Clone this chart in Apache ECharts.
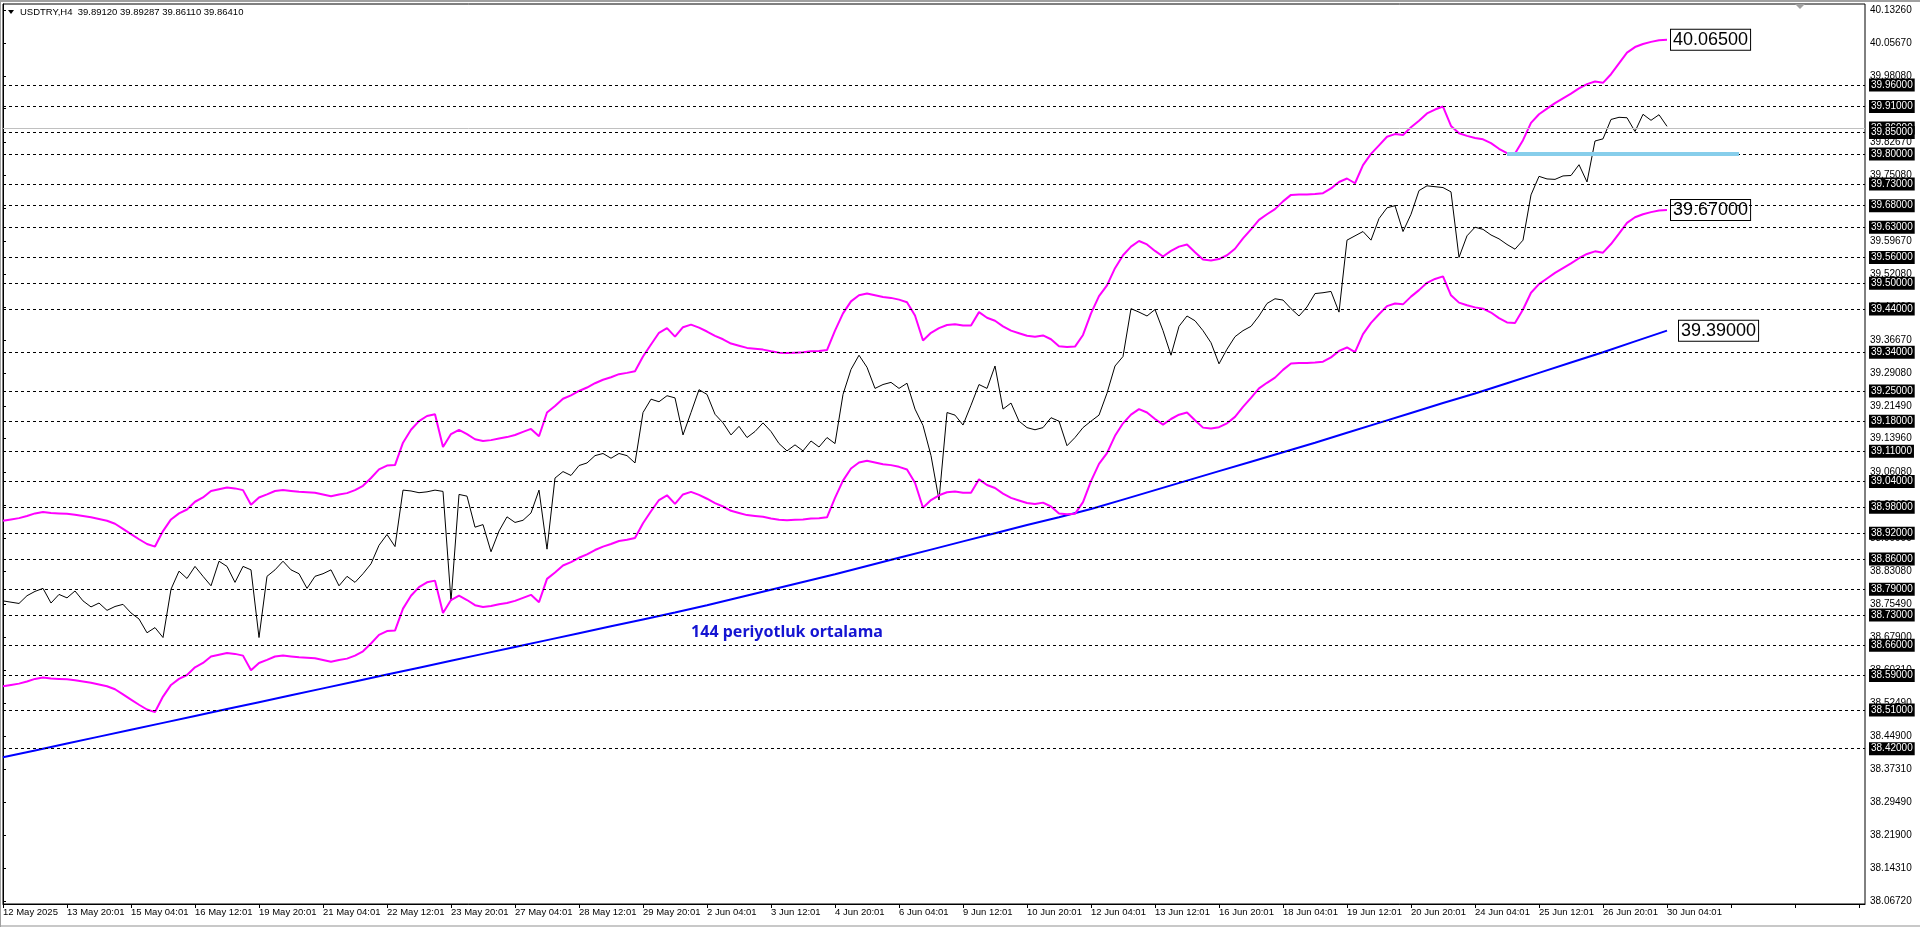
<!DOCTYPE html>
<html><head><meta charset="utf-8">
<script src="https://cdn.jsdelivr.net/npm/echarts@6/dist/echarts.min.js"></script>
<style>html,body{margin:0;padding:0;background:#fff;overflow:hidden}#c{width:1920px;height:927px}</style>
</head><body><div id="c"></div>
<script>
const headerText = "USDTRY,H4  39.89120 39.89287 39.86110 39.86410";
const xTickLabels = ["12 May 2025","13 May 20:01","15 May 04:01","16 May 12:01","19 May 20:01","21 May 04:01","22 May 12:01","23 May 20:01","27 May 04:01","28 May 12:01","29 May 20:01","2 Jun 04:01","3 Jun 12:01","4 Jun 20:01","6 Jun 04:01","9 Jun 12:01","10 Jun 20:01","12 Jun 04:01","13 Jun 12:01","16 Jun 20:01","18 Jun 04:01","19 Jun 12:01","20 Jun 20:01","24 Jun 04:01","25 Jun 12:01","26 Jun 20:01","30 Jun 04:01"];
const BARS_PER_LABEL = 8;
const axisTickValues = [40.1326,40.0567,39.9808,39.9049,39.8267,39.7508,39.6749,39.5967,39.5208,39.4449,39.3667,39.2908,39.2149,39.1396,39.0608,38.9849,38.9090,38.8308,38.7549,38.6790,38.6031,38.5249,38.4490,38.3731,38.2949,38.2190,38.1431,38.0672];
const levelPrices = [39.96,39.91,39.85,39.80,39.73,39.68,39.63,39.56,39.50,39.44,39.34,39.25,39.18,39.11,39.04,38.98,38.92,38.86,38.79,38.73,38.66,38.59,38.51,38.42];
const bidPrice = 39.8641;
const cyanSegment = {fromBar:188, toBar:217, price:39.80};
const maLabel = {text:"144 periyotluk ortalama", bar:98, price:38.69};

const closeValues = [
38.763,38.760,38.757,38.775,38.785,38.792,38.758,38.778,38.770,38.786,
38.763,38.749,38.758,38.741,38.750,38.755,38.735,38.721,38.689,38.701,
38.678,38.790,38.832,38.815,38.843,38.820,38.798,38.855,38.843,38.806,
38.843,38.835,38.678,38.820,38.835,38.855,38.835,38.826,38.792,38.820,
38.826,38.835,38.798,38.820,38.806,38.826,38.849,38.892,38.917,38.889,
39.020,39.018,39.014,39.016,39.020,39.017,38.763,39.010,39.006,38.934,
38.940,38.877,38.925,38.958,38.945,38.950,38.967,39.020,38.883,39.048,
39.063,39.054,39.077,39.083,39.100,39.105,39.094,39.105,39.100,39.083,
39.200,39.231,39.225,39.239,39.234,39.148,39.200,39.253,39.242,39.196,
39.176,39.148,39.168,39.142,39.156,39.176,39.156,39.128,39.111,39.125,
39.111,39.134,39.120,39.142,39.128,39.242,39.300,39.333,39.305,39.256,
39.265,39.270,39.256,39.268,39.208,39.170,39.100,38.997,39.200,39.194,
39.171,39.217,39.265,39.256,39.308,39.208,39.222,39.180,39.165,39.160,
39.165,39.188,39.180,39.123,39.142,39.165,39.180,39.194,39.245,39.308,
39.330,39.441,39.433,39.424,39.439,39.390,39.333,39.400,39.424,39.413,
39.390,39.362,39.313,39.347,39.376,39.390,39.400,39.424,39.453,39.464,
39.461,39.441,39.424,39.445,39.476,39.478,39.481,39.433,39.600,39.610,
39.620,39.600,39.650,39.675,39.680,39.620,39.660,39.715,39.726,39.724,
39.722,39.712,39.560,39.610,39.630,39.625,39.612,39.603,39.590,39.579,
39.600,39.705,39.748,39.742,39.741,39.749,39.750,39.775,39.735,39.830,
39.835,39.880,39.885,39.884,39.852,39.892,39.878,39.891,39.864];

const upperValues = [
38.949,38.952,38.955,38.960,38.966,38.969,38.967,38.966,38.965,38.963,
38.960,38.957,38.953,38.949,38.942,38.930,38.918,38.906,38.895,38.889,
38.925,38.952,38.966,38.975,38.993,39.003,39.018,39.022,39.026,39.024,
39.020,38.986,39.003,39.010,39.018,39.020,39.018,39.016,39.015,39.014,
39.010,39.006,39.010,39.013,39.020,39.030,39.048,39.068,39.077,39.078,
39.130,39.160,39.180,39.192,39.196,39.120,39.150,39.160,39.150,39.138,
39.134,39.136,39.140,39.143,39.148,39.155,39.162,39.145,39.200,39.215,
39.232,39.240,39.250,39.258,39.268,39.276,39.282,39.289,39.292,39.296,
39.330,39.358,39.385,39.396,39.376,39.398,39.404,39.397,39.388,39.378,
39.370,39.360,39.355,39.350,39.348,39.346,39.342,39.339,39.338,39.339,
39.340,39.342,39.343,39.345,39.390,39.430,39.458,39.472,39.476,39.472,
39.468,39.466,39.462,39.456,39.425,39.367,39.385,39.396,39.403,39.405,
39.402,39.402,39.433,39.420,39.413,39.400,39.390,39.384,39.378,39.376,
39.379,39.370,39.354,39.352,39.353,39.380,39.430,39.470,39.495,39.535,
39.565,39.585,39.598,39.590,39.575,39.562,39.575,39.585,39.590,39.572,
39.555,39.553,39.556,39.565,39.580,39.604,39.625,39.647,39.660,39.672,
39.690,39.705,39.706,39.706,39.707,39.709,39.720,39.735,39.743,39.732,
39.774,39.800,39.820,39.840,39.846,39.844,39.862,39.877,39.894,39.903,
39.910,39.865,39.848,39.842,39.837,39.834,39.825,39.812,39.802,39.801,
39.832,39.872,39.892,39.905,39.918,39.929,39.940,39.952,39.962,39.968,
39.965,39.985,40.010,40.035,40.048,40.055,40.060,40.064,40.065];

const lowerValues = [
38.565,38.568,38.571,38.576,38.582,38.585,38.583,38.582,38.581,38.579,
38.576,38.573,38.569,38.565,38.558,38.546,38.534,38.522,38.511,38.505,
38.541,38.568,38.582,38.591,38.609,38.619,38.634,38.638,38.642,38.640,
38.636,38.602,38.619,38.626,38.634,38.636,38.634,38.632,38.631,38.630,
38.626,38.622,38.626,38.629,38.636,38.646,38.664,38.684,38.693,38.694,
38.745,38.775,38.795,38.806,38.810,38.735,38.765,38.775,38.765,38.753,
38.749,38.751,38.755,38.758,38.763,38.770,38.777,38.760,38.814,38.829,
38.845,38.853,38.863,38.871,38.881,38.889,38.895,38.902,38.905,38.909,
38.943,38.971,38.997,39.008,38.988,39.010,39.016,39.009,39.000,38.990,
38.982,38.972,38.967,38.962,38.960,38.958,38.954,38.951,38.950,38.951,
38.952,38.954,38.955,38.957,39.002,39.042,39.070,39.084,39.088,39.084,
39.080,39.078,39.074,39.068,39.037,38.979,38.997,39.008,39.015,39.017,
39.014,39.014,39.045,39.032,39.025,39.012,39.002,38.996,38.990,38.988,
38.991,38.982,38.966,38.964,38.965,38.992,39.041,39.081,39.106,39.146,
39.175,39.195,39.208,39.200,39.185,39.172,39.185,39.195,39.200,39.182,
39.165,39.163,39.166,39.175,39.190,39.213,39.234,39.256,39.269,39.281,
39.299,39.314,39.315,39.315,39.316,39.318,39.328,39.343,39.351,39.340,
39.382,39.408,39.428,39.447,39.453,39.451,39.469,39.484,39.501,39.510,
39.516,39.472,39.455,39.449,39.444,39.441,39.432,39.419,39.409,39.408,
39.439,39.478,39.498,39.511,39.524,39.535,39.546,39.558,39.568,39.574,
39.571,39.591,39.615,39.640,39.653,39.660,39.665,39.669,39.670];

const MA_STEP = 4;
const maValues = [
38.400,38.416,38.432,38.448,38.464,38.480,38.496,38.512,38.528,38.544,
38.560,38.576,38.592,38.608,38.624,38.640,38.656,38.672,38.688,38.704,
38.720,38.736,38.753,38.771,38.789,38.807,38.825,38.844,38.863,38.882,
38.901,38.920,38.939,38.957,38.976,38.998,39.020,39.042,39.064,39.086,
39.108,39.130,39.153,39.176,39.199,39.222,39.244,39.268,39.292,39.316,
39.340,39.365,39.390];

const FONT = "'Liberation Sans', Arial, sans-serif";
const chart = echarts.init(document.getElementById('c'), null, {renderer:'canvas'});
const pairs = arr => arr.map((v, i) => [i, v]);
const endBox = (dist) => ({
  show: true, distance: dist,
  formatter: p => p.value[1].toFixed(5),
  backgroundColor: '#fff', borderColor: '#000', borderWidth: 1,
  padding: [2, 2, 0, 2], fontSize: 18, color: '#000', fontFamily: FONT
});
const levelLabel = {
  show: true, position: 'end', distance: 4,
  formatter: p => Number(p.value).toFixed(5),
  backgroundColor: '#000', color: '#fff', fontSize: 10, fontFamily: FONT,
  padding: [2, 2, 1, 2]
};

const option = {
  animation: false,
  backgroundColor: '#fff',
  grid: {left: 3, right: 55, top: 4, bottom: 23, show: true, borderColor: '#000', borderWidth: 1},
  xAxis: {
    type: 'value', min: 0, max: 232.75, interval: BARS_PER_LABEL,
    splitLine: {show: false},
    axisLine: {lineStyle: {color: '#000', width: 1}},
    axisTick: {length: 4, lineStyle: {color: '#000'}},
    axisLabel: {
      formatter: v => xTickLabels[v / BARS_PER_LABEL] || '',
      align: 'left', color: '#000', fontSize: 9.5, fontFamily: FONT, margin: 3,
      showMinLabel: true, showMaxLabel: false
    }
  },
  yAxis: {
    type: 'value', position: 'right', min: 38.0597, max: 40.1479,
    splitLine: {show: false},
    axisLine: {show: true, lineStyle: {color: '#000'}},
    axisTick: {show: true, length: 3, customValues: axisTickValues, lineStyle: {color: '#000'}},
    axisLabel: {customValues: axisTickValues, formatter: v => v.toFixed(5), color: '#000', fontSize: 10, fontFamily: FONT, margin: 5}
  },
  graphic: [
    {type: 'rect', shape: {x: 0, y: 0, width: 1920, height: 2}, style: {fill: '#a0a0a0'}},
    {type: 'rect', shape: {x: 0, y: 925, width: 1920, height: 2}, style: {fill: '#c8c8c8'}},
    {type: 'rect', shape: {x: 0, y: 0, width: 1, height: 927}, style: {fill: '#a0a0a0'}},
    {type: 'polygon', shape: {points: [[8, 10], [14, 10], [11, 14]]}, style: {fill: '#000'}},
    {type: 'text', x: 20, y: 12, style: {text: headerText, font: "9.5px 'Liberation Sans', Arial", fill: '#000', verticalAlign: 'middle'}},
    {type: 'polygon', shape: {points: [[1795, 4], [1805, 4], [1800, 9]]}, style: {fill: '#a0a0a0'}}
  ],
  series: [
    {
      name: 'levels', type: 'line', data: [], silent: true,
      markLine: {
        silent: true, symbol: ['none', 'none'], animation: false,
        data: [
          {yAxis: bidPrice, lineStyle: {type: 'solid', color: '#c0c0c0', width: 1}, label: levelLabel},
          ...levelPrices.map(v => ({yAxis: v})),
          [{coord: [cyanSegment.fromBar, cyanSegment.price], lineStyle: {type: 'solid', color: '#87ceeb', width: 4}, label: {show: false}},
           {coord: [cyanSegment.toBar, cyanSegment.price]}]
        ],
        lineStyle: {type: [3, 3], color: '#000', width: 1},
        label: levelLabel
      }
    },
    {
      name: 'close', type: 'line', data: pairs(closeValues), showSymbol: false, symbol: 'none',
      lineStyle: {color: '#000', width: 1}, silent: true
    },
    {
      name: 'ma144', type: 'line', data: maValues.map((v, k) => [k * MA_STEP, v]), showSymbol: false, symbol: 'none',
      lineStyle: {color: '#0000ff', width: 2}, silent: true,
      endLabel: endBox(12),
      markPoint: {
        symbol: 'circle', symbolSize: 0, silent: true,
        label: {show: true, position: 'inside', formatter: maLabel.text, color: '#1414d2', fontWeight: 'bold', fontSize: 16, fontFamily: "'Noto Sans', sans-serif"},
        data: [{coord: [maLabel.bar, maLabel.price]}]
      }
    },
    {
      name: 'upper', type: 'line', data: pairs(upperValues), showSymbol: false, symbol: 'none',
      lineStyle: {color: '#ff00ff', width: 2}, silent: true, endLabel: endBox(4)
    },
    {
      name: 'lower', type: 'line', data: pairs(lowerValues), showSymbol: false, symbol: 'none',
      lineStyle: {color: '#ff00ff', width: 2}, silent: true, endLabel: endBox(4)
    }
  ]
};
chart.setOption(option);
</script></body></html>
